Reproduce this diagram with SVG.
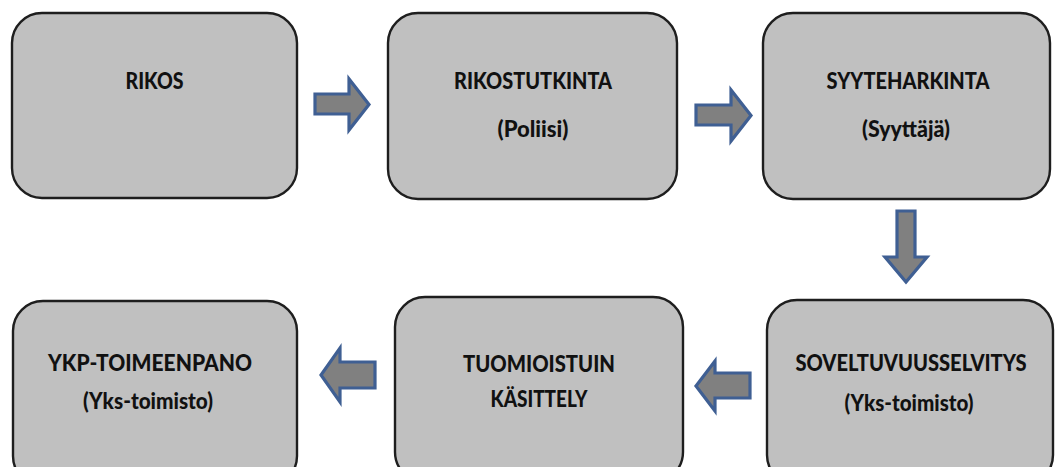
<svg xmlns="http://www.w3.org/2000/svg" width="1056" height="467" viewBox="0 0 1056 467">
<style>
.box{fill:#c0c0c0;stroke:#1e1e1e;stroke-width:2.4}
.t{font-family:Lato,"Open Sans","Liberation Sans",sans-serif;font-weight:900;font-size:22.5px;fill:#111;text-anchor:middle}
.arr{fill:#808080;stroke:#3f5f93;stroke-width:3.2;stroke-linejoin:miter}
</style>
<rect width="1056" height="467" fill="#ffffff"/>
<g id="rikos">
<rect class="box" x="12" y="13" width="285" height="185" rx="30"/>
<text class="t" x="154.5" y="89" textLength="58" lengthAdjust="spacingAndGlyphs">RIKOS</text>
</g>
<g id="rikostutkinta">
<rect class="box" x="388" y="13" width="289" height="186" rx="30"/>
<text class="t" x="533" y="89" textLength="158" lengthAdjust="spacingAndGlyphs">RIKOSTUTKINTA</text>
<text class="t" x="533" y="137" textLength="71" lengthAdjust="spacingAndGlyphs">(Poliisi)</text>
</g>
<g id="syyteharkinta">
<rect class="box" x="763" y="13" width="287" height="186" rx="30"/>
<text class="t" x="908" y="89" textLength="163" lengthAdjust="spacingAndGlyphs">SYYTEHARKINTA</text>
<text class="t" x="906" y="137" textLength="88" lengthAdjust="spacingAndGlyphs">(Syyttäjä)</text>
</g>
<g id="ykp-toimeenpano">
<rect class="box" x="13" y="301" width="284" height="185" rx="30"/>
<text class="t" x="150" y="371" textLength="204" lengthAdjust="spacingAndGlyphs">YKP-TOIMEENPANO</text>
<text class="t" x="148" y="409" textLength="130" lengthAdjust="spacingAndGlyphs">(Yks-toimisto)</text>
</g>
<g id="tuomioistuin">
<rect class="box" x="395" y="297" width="288" height="185" rx="30"/>
<text class="t" x="539" y="372" textLength="152" lengthAdjust="spacingAndGlyphs">TUOMIOISTUIN</text>
<text class="t" x="539" y="407" textLength="97" lengthAdjust="spacingAndGlyphs">KÄSITTELY</text>
</g>
<g id="soveltuvuusselvitys">
<rect class="box" x="767" y="300" width="286" height="185" rx="30"/>
<text class="t" x="911" y="371" textLength="231" lengthAdjust="spacingAndGlyphs">SOVELTUVUUSSELVITYS</text>
<text class="t" x="909" y="411" textLength="129" lengthAdjust="spacingAndGlyphs">(Yks-toimisto)</text>
</g>
<g id="connectors">
<polygon class="arr" points="315,94 349,94 349,79 369,104.5 349,130 349,114 315,114"/>
<polygon class="arr" points="696,105 731,105 731,90 751,115.5 731,141 731,125 696,125"/>
<polygon class="arr" points="897,211 915,211 915,257 927,257 906,282 885,257 897,257"/>
<polygon class="arr" points="375,362 340,362 340,348 321,375 340,402 340,388 375,388"/>
<polygon class="arr" points="750,373 715,373 715,361 696,386 715,411 715,398 750,398"/>
</g>
</svg>
